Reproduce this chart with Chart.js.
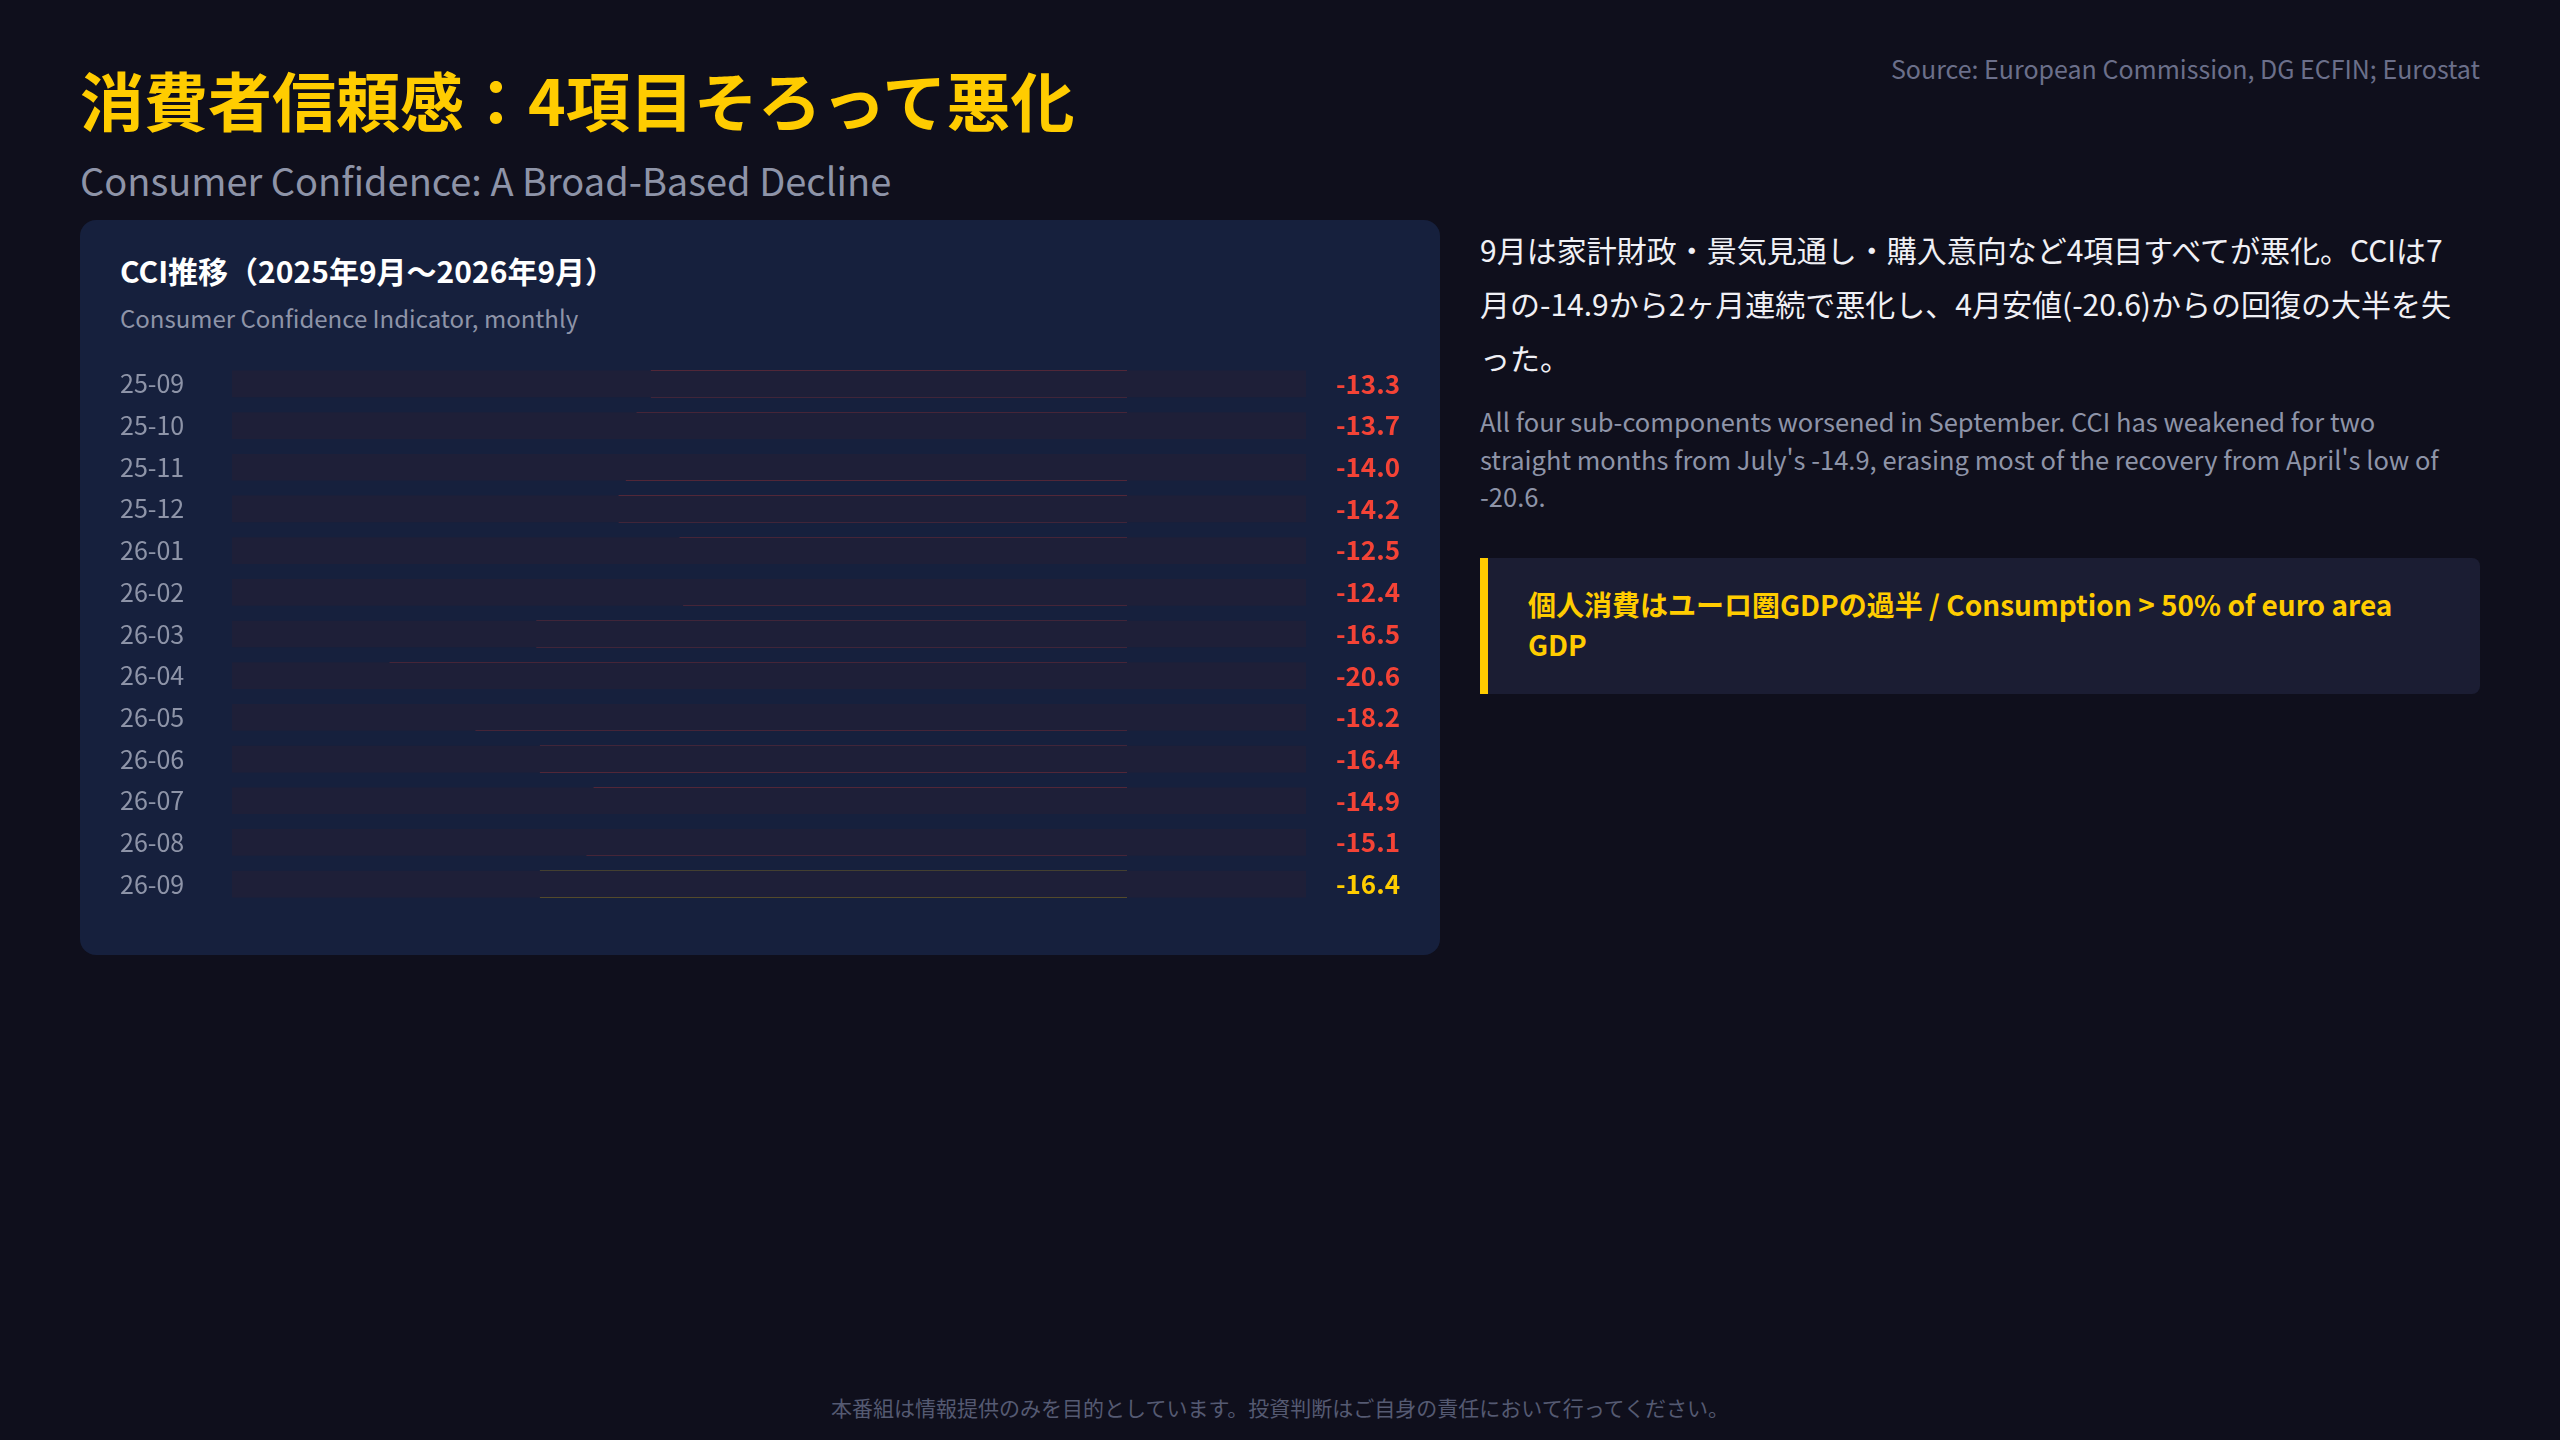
<!DOCTYPE html>
<html lang="ja">
<head>
<meta charset="UTF-8" />
<title>消費者信頼感</title>
<script src="https://cdn.jsdelivr.net/npm/chart.js@4"></script>
<style>
  body { margin:0; width:2560px; height:1440px; background:#0f0f1c; font-family:"Noto Sans CJK JP","Noto Sans",sans-serif; position:relative; overflow:hidden; }
  .abs { position:absolute; }
  #title { left:80px; top:52px; font-size:64px; font-weight:700; color:#ffcc00; margin:0; }
  #sub { left:80px; top:152px; font-size:38px; color:#8e94a8; }
  #source { right:80px; top:50px; font-size:25px; color:#6b6f8a; }
  #card { left:80px; top:220px; width:1360px; height:735px; background:#16203d; border-radius:16px; }
  #cardTitle { left:120px; top:248px; font-size:30px; font-weight:700; color:#fff; }
  #cardSub { left:120px; top:300px; font-size:24px; color:#8e94a8; }
  #chartBox { left:120px; top:348px; width:1280px; height:572px; }
  #jp { left:1480px; top:222px; width:980px; font-size:30px; line-height:54px; color:#f0f0f5; }
  #en { left:1480px; top:402px; width:970px; font-size:25.5px; line-height:37.5px; color:#8e94a8; }
  #callout { left:1480px; top:558px; width:1000px; height:136px; background:#1b1d33; border-left:8px solid #ffcc00; border-radius:0 8px 8px 0; box-sizing:border-box; padding:26px 40px; font-size:28px; font-weight:700; color:#ffcc00; line-height:40px; }
  #foot { left:0; width:2560px; top:1392px; text-align:center; font-size:21px; color:#555a72; }
</style>
</head>
<body>
<h1 class="abs" id="title">消費者信頼感：4項目そろって悪化</h1>
<div class="abs" id="sub">Consumer Confidence: A Broad-Based Decline</div>
<div class="abs" id="source">Source: European Commission, DG ECFIN; Eurostat</div>
<div class="abs" id="card"></div>
<div class="abs" id="cardTitle">CCI推移（2025年9月〜2026年9月）</div>
<div class="abs" id="cardSub">Consumer Confidence Indicator, monthly</div>
<div class="abs" id="chartBox"><canvas id="cci" width="1280" height="572"></canvas></div>
<div class="abs" id="jp">9月は家計財政・景気見通し・購入意向など4項目すべてが悪化。CCIは7月の-14.9から2ヶ月連続で悪化し、4月安値(-20.6)からの回復の大半を失った。</div>
<div class="abs" id="en">All four sub-components worsened in September. CCI has weakened for two straight months from July's -14.9, erasing most of the recovery from April's low of -20.6.</div>
<div class="abs" id="callout">個人消費はユーロ圏GDPの過半 / Consumption &gt; 50% of euro area GDP</div>
<div class="abs" id="foot">本番組は情報提供のみを目的としています。投資判断はご自身の責任において行ってください。</div>

<script>
  const months = ['25-09','25-10','25-11','25-12','26-01','26-02','26-03','26-04','26-05','26-06','26-07','26-08','26-09'];
  const cci = [-13.3,-13.7,-14.0,-14.2,-12.5,-12.4,-16.5,-20.6,-18.2,-16.4,-14.9,-15.1,-16.4];
  const axisMin = -25, axisMax = 5;

  const RED = '#f44336', YELLOW = '#ffcc00';
  const barColors = cci.map((v, i) => i === cci.length - 1 ? YELLOW : RED);

  // Werte rechts neben den Balken
  const valueLabels = {
    id: 'valueLabels',
    afterDatasetsDraw(chart) {
      const ctx = chart.ctx;
      const meta = chart.getDatasetMeta(1);
      ctx.save();
      ctx.font = 'bold 26px "Noto Sans CJK JP"';
      ctx.textAlign = 'right';
      ctx.textBaseline = 'middle';
      meta.data.forEach((bar, i) => {
        ctx.fillStyle = barColors[i];
        ctx.fillText(cci[i].toFixed(1), chart.width, bar.y);
      });
      ctx.restore();
    }
  };

  new Chart(document.getElementById('cci'), {
    type: 'bar',
    data: {
      labels: months,
      datasets: [
        { data: months.map(() => [axisMin, axisMax]), backgroundColor: '#1e1f38', grouped: false, categoryPercentage: 1, barPercentage: 0.64 },
        { data: cci, backgroundColor: barColors, grouped: false, categoryPercentage: 1, barPercentage: 0.64 }
      ]
    },
    options: {
      indexAxis: 'y',
      responsive: false,
      animation: false,
      layout: { padding: { right: 94, top: 0, bottom: 0, left: 0 } },
      plugins: { legend: { display: false }, tooltip: { enabled: false } },
      scales: {
        x: { min: axisMin, max: axisMax, display: false },
        y: {
          grid: { display: false }, border: { display: false },
          ticks: { color: '#8e94a8', font: { size: 25, family: 'Noto Sans CJK JP' }, padding: 0, crossAlign: 'far' },
          afterFit(scale) { scale.width = 112; }
        }
      }
    },
    plugins: [valueLabels]
  });
</script>
</body>
</html>
